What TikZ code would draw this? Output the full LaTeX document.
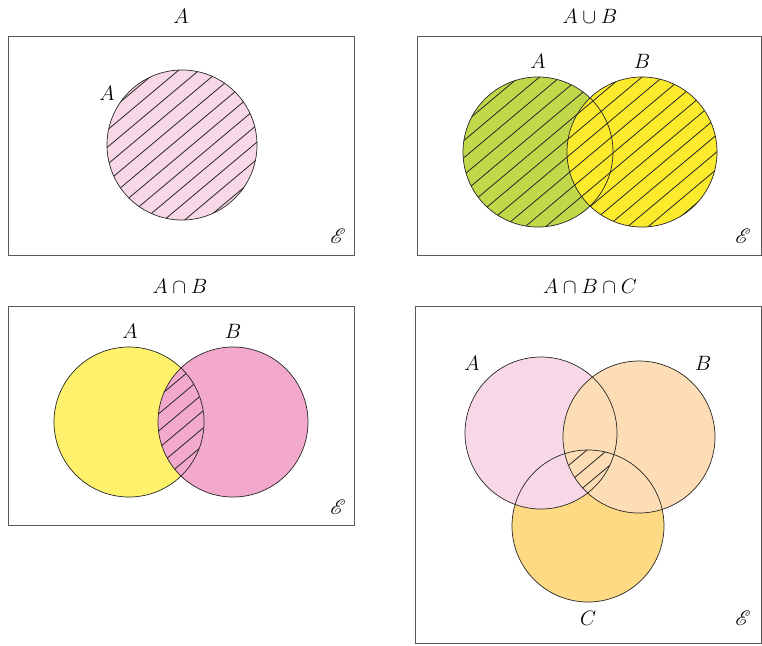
\documentclass[tikz,border=0pt]{standalone}
\usepackage{mathrsfs}
\definecolor{pinkA}{HTML}{F8D8E6}
\definecolor{greenA}{HTML}{C2D84A}
\definecolor{yellowB}{HTML}{FCEA2C}
\definecolor{yellowA}{HTML}{FEF26C}
\definecolor{pinkB}{HTML}{F3A9CB}
\definecolor{peachB}{HTML}{FDDDB5}
\definecolor{goldC}{HTML}{FEDA85}
\tikzset{
  universe/.style={draw=black!65, line width=0.8pt},
  setline/.style={draw=black!85, line width=0.7pt},
  setlabel/.style={font=\fontsize{20}{24}\selectfont},
  eps/.style={font=\fontsize{20}{24}\selectfont},
  hatchline/.style={draw=black!85, line width=0.8pt},
}
\newcommand{\hatchfill}{\foreach \s in {-900,-879.5,...,800} \draw[hatchline] (\s,700) -- ++(1000,-839);}
\begin{document}
\begin{tikzpicture}[x=1pt, y=-1pt]
    \useasboundingbox (0,0) rectangle (762,645);
    % Centres
    \coordinate (p1a) at (182,145);
    \coordinate (p2a) at (538,152);
    \coordinate (p2b) at (642,152);
    \coordinate (p3a) at (129,422);
    \coordinate (p3b) at (233,422);
    \coordinate (p4a) at (541,433);
    \coordinate (p4b) at (639,437);
    \coordinate (p4c) at (588,526);

    % Panel A
    \draw[universe] (8,36) rectangle (354,255);
    \fill[pinkA] (p1a) circle (75);
    \begin{scope}
        \clip (p1a) circle (75);
        \hatchfill
    \end{scope}
    \draw[setline] (p1a) circle (75);
    \node[setlabel] (t1) at (181,16) {$A$};
    \node[setlabel] (l1a) at (107,93) {$A$};
    \node[eps] (e1) at (338,236) {$\mathscr{E}$};

    % Panel A union B
    \draw[universe] (417,36) rectangle (761,255);
    \fill[greenA] (p2a) circle (75);
    \fill[yellowB] (p2b) circle (75);
    \begin{scope}
        \clip (p2a) circle (75) (p2b) circle (75);
        \hatchfill
    \end{scope}
    \draw[setline] (p2a) circle (75);
    \draw[setline] (p2b) circle (75);
    \node[setlabel] (t2) at (590,16) {$A \cup B$};
    \node[setlabel] (l2a) at (538,61) {$A$};
    \node[setlabel] (l2b) at (642,61) {$B$};
    \node[eps] (e2) at (743,236) {$\mathscr{E}$};

    % Panel A intersect B
    \draw[universe] (8,306) rectangle (354,525);
    \fill[yellowA] (p3a) circle (75);
    \fill[pinkB] (p3b) circle (75);
    \begin{scope}
        \clip (p3a) circle (75);
        \clip (p3b) circle (75);
        \hatchfill
    \end{scope}
    \draw[setline] (p3a) circle (75);
    \draw[setline] (p3b) circle (75);
    \node[setlabel] (t3) at (180,286) {$A \cap B$};
    \node[setlabel] (l3a) at (130,331) {$A$};
    \node[setlabel] (l3b) at (233,331) {$B$};
    \node[eps] (e3) at (338,507) {$\mathscr{E}$};

    % Panel A intersect B intersect C
    \draw[universe] (415,306) rectangle (761,643);
    \fill[goldC] (p4c) circle (76);
    \fill[pinkA] (p4a) circle (76);
    \fill[peachB] (p4b) circle (76);
    \begin{scope}
        \clip (p4a) circle (76);
        \clip (p4b) circle (76);
        \clip (p4c) circle (76);
        \hatchfill
    \end{scope}
    \draw[setline] (p4a) circle (76);
    \draw[setline] (p4b) circle (76);
    \draw[setline] (p4c) circle (76);
    \node[setlabel] (t4) at (590,286) {$A \cap B \cap C$};
    \node[setlabel] (l4a) at (472,363) {$A$};
    \node[setlabel] (l4b) at (703,363) {$B$};
    \node[setlabel] (l4c) at (588,618) {$C$};
    \node[eps] (e4) at (743,618) {$\mathscr{E}$};
\end{tikzpicture}
\end{document}
